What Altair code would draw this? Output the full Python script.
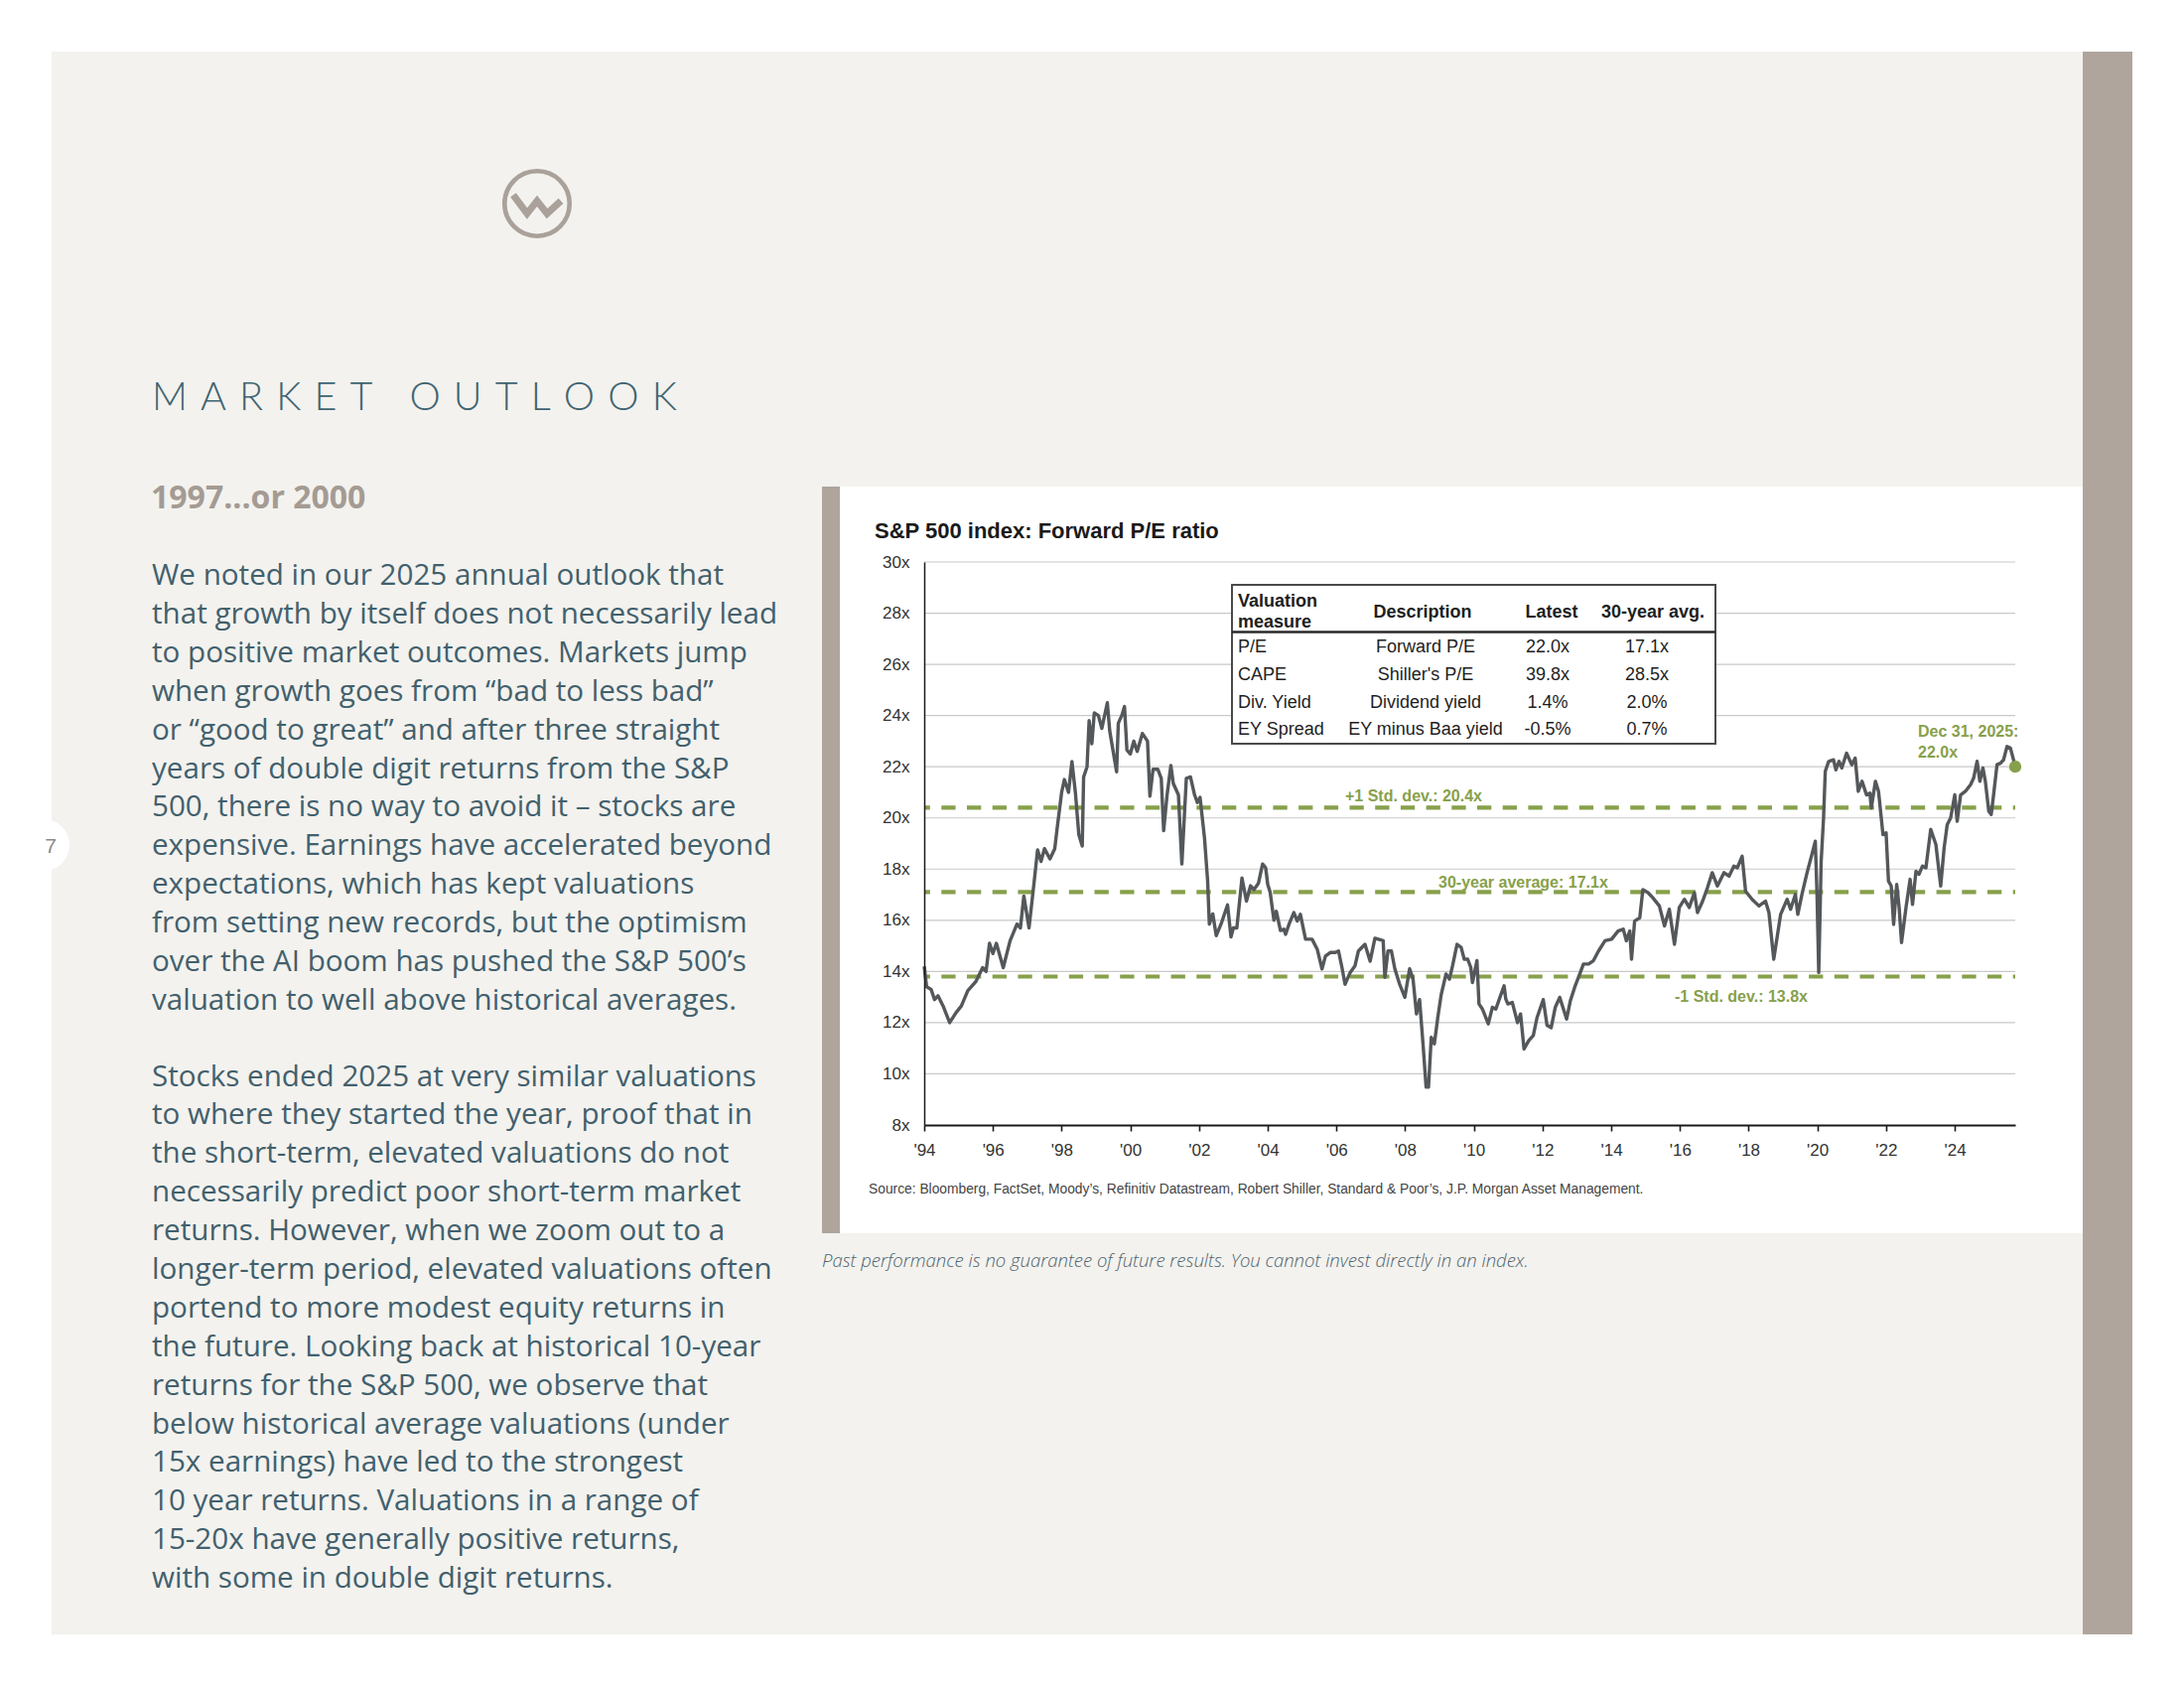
import altair as alt
import pandas as pd

# ---------------- data ----------------
years = [
    1994.00, 1994.07, 1994.20, 1994.30, 1994.40, 1994.55, 1994.74, 1994.93, 1995.08, 1995.27,
    1995.50, 1995.70, 1995.80, 1995.90, 1996.00, 1996.10, 1996.30, 1996.50, 1996.70, 1996.80,
    1996.90, 1997.05, 1997.20, 1997.30, 1997.40, 1997.50, 1997.66, 1997.80, 1997.87, 1998.00,
    1998.08, 1998.20, 1998.30, 1998.40, 1998.50, 1998.60, 1998.64, 1998.74, 1998.80, 1998.88,
    1998.95, 1999.07, 1999.17, 1999.33, 1999.40, 1999.60, 1999.65, 1999.75, 1999.83, 1999.90,
    2000.00, 2000.10, 2000.20, 2000.35, 2000.50, 2000.57, 2000.66, 2000.80, 2000.90, 2000.97,
    2001.07, 2001.18, 2001.25, 2001.40, 2001.50, 2001.63, 2001.75, 2001.87, 2001.95, 2002.03,
    2002.16, 2002.25, 2002.30, 2002.40, 2002.50, 2002.64, 2002.83, 2002.93, 2003.00, 2003.10,
    2003.25, 2003.38, 2003.50, 2003.60, 2003.73, 2003.85, 2003.94, 2004.00, 2004.07, 2004.18,
    2004.25, 2004.37, 2004.47,
    2004.52, 2004.62, 2004.76, 2004.86, 2004.95, 2005.10, 2005.29, 2005.44, 2005.58, 2005.68,
    2005.82, 2005.97, 2006.06, 2006.16, 2006.25, 2006.40, 2006.54, 2006.64, 2006.83, 2006.98,
    2007.12, 2007.22, 2007.36, 2007.41, 2007.50, 2007.60, 2007.70, 2007.84, 2007.99, 2008.13,
    2008.23, 2008.33, 2008.42, 2008.52, 2008.61, 2008.68, 2008.76, 2008.85, 2008.95, 2009.05,
    2009.19, 2009.29, 2009.38, 2009.51, 2009.63, 2009.72, 2009.82, 2009.91, 2009.96, 2010.09,
    2010.15, 2010.25, 2010.42, 2010.54, 2010.64, 2010.76, 2010.88, 2010.93, 2010.99, 2011.12,
    2011.27, 2011.36, 2011.46, 2011.60, 2011.73, 2011.84, 2012.02, 2012.13, 2012.25, 2012.37,
    2012.50, 2012.70, 2012.81, 2012.95, 2013.10, 2013.19, 2013.34, 2013.48, 2013.63, 2013.82,
    2014.01, 2014.20, 2014.35, 2014.44, 2014.54, 2014.59, 2014.68, 2014.83, 2014.92, 2015.07,
    2015.21, 2015.40, 2015.55, 2015.69, 2015.84, 2015.98, 2016.13, 2016.27, 2016.42, 2016.51,
    2016.66, 2016.80, 2016.94, 2017.09, 2017.28, 2017.43, 2017.57, 2017.67, 2017.81, 2017.91,
    2018.10, 2018.30, 2018.49, 2018.59, 2018.73, 2018.93, 2019.12, 2019.22, 2019.36, 2019.43,
    2019.55, 2019.70, 2019.84, 2019.94, 2019.99, 2020.04, 2020.11, 2020.18, 2020.23, 2020.33,
    2020.47, 2020.54, 2020.63, 2020.71, 2020.85, 2021.00, 2021.10, 2021.19, 2021.30, 2021.43,
    2021.53, 2021.57, 2021.69, 2021.78, 2021.91, 2022.00, 2022.07, 2022.15, 2022.22, 2022.31,
    2022.38, 2022.45, 2022.58, 2022.70, 2022.77, 2022.87, 2022.96, 2023.06, 2023.16, 2023.30,
    2023.45, 2023.59, 2023.69, 2023.78, 2023.88, 2024.00, 2024.07, 2024.17, 2024.31, 2024.46,
    2024.55, 2024.65, 2024.73, 2024.82, 2024.89, 2024.99, 2025.06, 2025.13, 2025.23, 2025.33,
    2025.42, 2025.52, 2025.62, 2025.71, 2025.76,
]
pe = [
    14.2, 13.4, 13.3, 12.9, 13.05, 12.65, 12.0, 12.4, 12.65, 13.25,
    13.6, 14.15, 14.0, 15.1, 14.7, 15.1, 14.15, 15.2, 15.85, 15.7,
    16.95, 15.7, 17.5, 18.75, 18.3, 18.8, 18.4, 18.8, 19.6, 21.0,
    21.5, 21.0, 22.2, 21.0, 19.35, 18.9, 21.6, 22.0, 23.8, 22.9,
    24.1, 24.0, 23.5, 24.5, 23.4, 21.8, 23.7, 24.0, 24.35, 22.65,
    22.5, 23.0, 22.6, 23.3, 23.0, 20.85, 21.9, 21.9, 21.55, 19.5,
    20.9, 22.05, 21.35, 20.9, 18.2, 21.55, 21.6, 20.9, 20.6, 20.8,
    19.2, 17.55, 15.85, 16.25, 15.4, 15.85, 16.6, 15.35, 15.7, 15.7,
    17.65, 16.75, 17.35, 17.2, 17.45, 18.2, 18.05, 17.4, 17.1, 16.0,
    16.35, 15.6, 15.65,
    15.45, 15.85, 16.3, 15.97, 16.23, 15.26, 15.26, 14.87, 14.1, 14.6,
    14.74, 14.74, 14.8, 14.16, 13.5, 13.96, 14.22, 14.8, 15.06, 14.4,
    15.3, 15.26, 15.2, 13.77, 14.8, 14.8, 14.1, 13.5, 12.99, 14.1,
    13.7, 12.34, 12.9, 11.17, 9.48, 9.48, 11.43, 11.17, 12.2, 13.1,
    13.9, 13.7, 14.22, 15.06, 14.94, 14.48, 14.48, 14.16, 13.57, 14.42,
    12.73, 12.53, 11.95, 12.6, 12.53, 12.99, 13.44, 12.92, 12.73, 12.79,
    12.0, 12.34, 10.97, 11.3, 11.5, 12.2, 12.9, 11.9, 11.8, 12.6,
    12.99, 12.14, 12.86, 13.44, 13.96, 14.29, 14.29, 14.42, 14.8, 15.2,
    15.26, 15.58, 15.65, 15.2, 15.58, 14.48, 15.97, 16.1, 17.2, 17.08,
    16.88, 16.56, 15.78, 16.43, 15.06, 16.5, 16.82, 16.5, 17.08, 16.3,
    16.75, 17.27, 17.86, 17.34, 17.86, 17.73, 18.12, 18.05, 18.5, 17.14,
    16.82, 16.56, 16.75, 16.3, 14.48, 16.23, 16.82, 16.43, 17.01, 16.23,
    17.01, 17.86, 18.57, 19.09, 17.01, 13.96, 18.3, 20.0, 21.82, 22.21,
    22.27, 21.88, 22.21, 21.95, 22.53, 22.08, 22.34, 21.04, 21.43, 20.9,
    20.97, 20.39, 21.43, 21.04, 19.35, 19.42, 17.53, 17.34, 15.84, 17.4,
    16.5, 15.13, 16.5, 17.6, 16.62, 17.92, 17.8, 18.12, 18.05, 19.55,
    18.96, 17.34, 18.83, 19.74, 20.0, 20.9, 19.87, 20.9, 21.04, 21.3,
    21.56, 22.21, 21.43, 21.95, 21.43, 20.26, 20.13, 20.9, 22.08, 22.14,
    22.27, 22.79, 22.73, 22.27, 22.0,
]

y_ticks = [8, 10, 12, 14, 16, 18, 20, 22, 24, 26, 28, 30]
x_tick_years = [1994, 1996, 1998, 2000, 2002, 2004, 2006, 2008, 2010, 2012,
                2014, 2016, 2018, 2020, 2022, 2024]
band_values = [20.4, 17.1, 13.8]
band_labels = ["+1 Std. dev.: 20.4x", "30-year average: 17.1x", "-1 Std. dev.: 13.8x"]
end_label = "Dec 31, 2025:"

table_head_measure = ["Valuation", "measure"]
table_head_cols = ["Description", "Latest", "30-year avg."]
table_measures = ["P/E", "CAPE", "Div. Yield", "EY Spread"]
table_desc = ["Forward P/E", "Shiller's P/E", "Dividend yield", "EY minus Baa yield"]
table_latest = ["22.0x", "39.8x", "1.4%", "-0.5%"]
table_avg = ["17.1x", "28.5x", "2.0%", "0.7%"]

chart_title = "S&P 500 index: Forward P/E ratio"
source_text = ("Source: Bloomberg, FactSet, Moody\u2019s, Refinitiv Datastream, Robert Shiller, "
               "Standard & Poor\u2019s, J.P. Morgan Asset Management.")
disclaimer = "Past performance is no guarantee of future results. You cannot invest directly in an index."
page_heading = "MARKET OUTLOOK"
sub_heading = "1997...or 2000"
page_number = "7"
para1 = [
    "We noted in our 2025 annual outlook that",
    "that growth by itself does not necessarily lead",
    "to positive market outcomes. Markets jump",
    "when growth goes from \u201cbad to less bad\u201d",
    "or \u201cgood to great\u201d and after three straight",
    "years of double digit returns from the S&P",
    "500, there is no way to avoid it \u2013 stocks are",
    "expensive. Earnings have accelerated beyond",
    "expectations, which has kept valuations",
    "from setting new records, but the optimism",
    "over the AI boom has pushed the S&P 500\u2019s",
    "valuation to well above historical averages.",
]
para2 = [
    "Stocks ended 2025 at very similar valuations",
    "to where they started the year, proof that in",
    "the short-term, elevated valuations do not",
    "necessarily predict poor short-term market",
    "returns. However, when we zoom out to a",
    "longer-term period, elevated valuations often",
    "portend to more modest equity returns in",
    "the future. Looking back at historical 10-year",
    "returns for the S&P 500, we observe that",
    "below historical average valuations (under",
    "15x earnings) have led to the strongest",
    "10 year returns. Valuations in a range of",
    "15-20x have generally positive returns,",
    "with some in double digit returns.",
]

# ---------------- styling ----------------
W, H = 1099, 567
GREEN = "#87a04b"
LINE = "#54585b"
BEIGE = "#f3f2ee"
TAUPE = "#afa59d"
BODY = "#42606d"
CF = "Liberation Sans"

df_line = pd.DataFrame({"year": years, "pe": pe})
df_grid = pd.DataFrame({"v": y_ticks[1:]})
df_end = pd.DataFrame({"year": [years[-1]], "pe": [pe[-1]]})
dummy = pd.DataFrame({"k": [0]})

xs = alt.Scale(domain=[1994, years[-1]], nice=False, zero=False)
ys = alt.Scale(domain=[y_ticks[0], y_ticks[-1]], nice=False, zero=False)
x_axis = alt.Axis(values=x_tick_years, title=None, grid=False,
                  labelExpr="\"'\" + substring(toString(datum.value), 2, 4)",
                  domainColor="#1a1a1a", domainWidth=2.2, tickColor="#1a1a1a",
                  tickWidth=1.6, tickSize=6, labelFont=CF, labelFontSize=17,
                  labelColor="#333333", labelPadding=11, labelFlush=False,
                  labelOverlap=False, zindex=1)
y_axis = alt.Axis(values=y_ticks, title=None, grid=False, ticks=False, tickSize=0,
                  labelExpr="datum.value + 'x'", domainColor="#1a1a1a", domainWidth=1.5,
                  labelFont=CF, labelFontSize=17, labelColor="#333333",
                  labelPadding=15, zindex=1)


def rect(x1, x2, y1, y2, **kw):
    return alt.Chart(dummy).mark_rect(**kw).encode(
        x=alt.value(x1), x2=alt.value(x2), y=alt.value(y1), y2=alt.value(y2))


def text(t, x, y, **kw):
    return alt.Chart(dummy).mark_text(text=t, **kw).encode(x=alt.value(x), y=alt.value(y))


layers = []
# page background
layers.append(rect(-879, 1167, -514, 1080, color=BEIGE))
layers.append(rect(1167, 1217, -514, 1080, color=TAUPE))
layers.append(alt.Chart(dummy).mark_point(shape="circle", filled=True, color="#ffffff",
                                          opacity=1, size=2704)
              .encode(x=alt.value(-887), y=alt.value(285)))
layers.append(text(page_number, -880, 287, font=CF, fontSize=21, color="#8a8a8a",
                   align="center", baseline="middle"))
# chart card
layers.append(rect(-85, 1167, -76, 676, color="#ffffff"))
layers.append(rect(-103, -85, -76, 676, color=TAUPE))

# gridlines
layers.append(alt.Chart(df_grid).mark_rule(color="#c9c9c9", strokeWidth=1.2).encode(
    y=alt.Y("v:Q", scale=ys, axis=y_axis)))
# std-dev / average lines
df_band = pd.DataFrame({"v": band_values})
layers.append(alt.Chart(df_band).mark_rule(color=GREEN, strokeWidth=4.2,
                                           strokeDash=[14.3, 11.4], strokeDashOffset=12)
              .encode(y=alt.Y("v:Q", scale=ys, axis=y_axis)))
# series line
layers.append(alt.Chart(df_line).mark_line(color=LINE, strokeWidth=3.4,
                                           strokeJoin="round").encode(
    x=alt.X("year:Q", scale=xs, axis=x_axis),
    y=alt.Y("pe:Q", scale=ys, axis=y_axis)))
layers.append(alt.Chart(df_end).mark_circle(color=GREEN, opacity=1, size=150).encode(
    x=alt.X("year:Q", scale=xs, axis=x_axis),
    y=alt.Y("pe:Q", scale=ys, axis=y_axis)))

# band labels
for v, lab, px, dy in zip(band_values, band_labels, [424, 518, 756], [-6, -4.5, 25]):
    layers.append(alt.Chart(pd.DataFrame({"v": [v]})).mark_text(
        text=lab, font=CF, fontSize=16, fontWeight="bold", color=GREEN,
        align="left", baseline="alphabetic", dy=dy).encode(
        x=alt.value(px), y=alt.Y("v:Q", scale=ys, axis=y_axis)))
layers.append(alt.Chart(df_end).mark_text(
    text=[end_label, f"{pe[-1]:.1f}x"], font=CF, fontSize=16, fontWeight="bold",
    color=GREEN, align="left", baseline="alphabetic", lineHeight=21, dy=-30.5).encode(
    x=alt.value(1001), y=alt.Y("pe:Q", scale=ys, axis=y_axis)))

# table
layers.append(rect(310, 797, 23, 183, fill="#ffffff", stroke="#4a4a4a", strokeWidth=2))
layers.append(alt.Chart(dummy).mark_rule(color="#2a2a2a", strokeWidth=2.6).encode(
    x=alt.value(310), x2=alt.value(797), y=alt.value(70.5)))
tkw = dict(font=CF, fontSize=18, color="#1e1e1e", baseline="alphabetic")
layers.append(text(table_head_measure, 316, 44.5, fontWeight="bold", lineHeight=21,
                   align="left", **tkw))
for lab, cx in zip(table_head_cols, [502, 632, 734]):
    layers.append(text(lab, cx, 55.5, fontWeight="bold", align="center", **tkw))
layers.append(text(table_measures, 316, 91, lineHeight=27.8, align="left", **tkw))
for col, cx in zip([table_desc, table_latest, table_avg], [505, 628, 728]):
    layers.append(text(col, cx, 91, lineHeight=27.8, align="center", **tkw))

# chart title, source, disclaimer
layers.append(text(chart_title, -50, -24.3, font=CF, fontSize=22, fontWeight="bold",
                   color="#1a1a1a", align="left", baseline="alphabetic"))
layers.append(text(source_text, -56, 635.5, font=CF, fontSize=13.8, color="#444444",
                   align="left", baseline="alphabetic"))
layers.append(text(disclaimer, -103, 710, font="Open Sans", fontSize=18.5, fontStyle="italic",
                   fontWeight=300, color="#4d6470", align="left", baseline="alphabetic"))

# left column
gap = "\u2004"
spaced = (gap.join("MARKET") + gap + " " + gap + gap.join("OUTLOOK"))
layers.append(text(spaced, -778, -153, font="Lato", fontSize=39.5, fontWeight=300,
                   color="#3f6471", align="left", baseline="alphabetic"))
layers.append(text(sub_heading, -779, -54, font="Open Sans", fontSize=32,
                   fontWeight="bold", color="#a49b93", align="left",
                   baseline="alphabetic"))
layers.append(text(para1, -778, 23, font="Open Sans", fontSize=29.6, fontWeight=400,
                   lineHeight=38.9, color=BODY, align="left", baseline="alphabetic"))
layers.append(text(para2, -778, 527.5, font="Open Sans", fontSize=29.6, fontWeight=400,
                   lineHeight=38.9, color=BODY, align="left", baseline="alphabetic"))

# logo
layers.append(alt.Chart(dummy).mark_point(shape="circle", filled=False, color="#a9a19a",
                                          opacity=1, size=4290, strokeWidth=4.6)
              .encode(x=alt.value(-390), y=alt.value(-361)))
w_path = "M-1,-0.4 L-0.42,0.38 L0,-0.15 L0.42,0.38 L1,-0.15"
layers.append(alt.Chart(dummy).mark_point(shape=w_path, filled=False, color="#a9a19a",
                                          opacity=1, size=2304, strokeWidth=7,
                                          strokeJoin="miter")
              .encode(x=alt.value(-390), y=alt.value(-360)))

chart = alt.layer(*layers).properties(
    width=W, height=H,
    padding={"left": 923, "top": 558, "right": 162, "bottom": 559},
    autosize=alt.AutoSizeParams(type="none"),
).configure_view(stroke=None).configure(background="#ffffff")

chart.save("out.html", embed_options={"renderer": "svg", "actions": False})
